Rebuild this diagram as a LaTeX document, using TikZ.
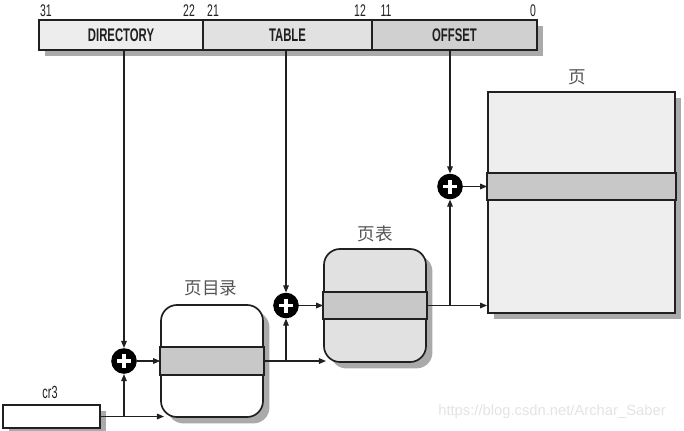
\documentclass[tikz,border=0pt]{standalone}
\usepackage{fontspec}
\setmainfont{Liberation Sans}
\newfontfamily\condfont[FakeStretch=0.62]{Liberation Sans}
\newfontfamily\cjk{Noto Sans CJK SC}
\usetikzlibrary{arrows.meta, shadows}
\definecolor{inkgray}{HTML}{202020}
\definecolor{dirfill}{HTML}{EDEDED}
\definecolor{tblfill}{HTML}{E1E1E1}
\definecolor{offfill}{HTML}{D0D0D0}
\definecolor{bandgray}{HTML}{C8C8C8}
\definecolor{pagefill}{HTML}{EEEEEE}
\definecolor{shadowgray}{HTML}{8E8E8E}
\definecolor{labelgray}{HTML}{555555}
\definecolor{wmark}{HTML}{E4E4E4}

\tikzset{
  boxshadow/.style={drop shadow={shadow xshift=1.6mm, shadow yshift=-1.6mm,
      fill=shadowgray, opacity=0.75}},
  field/.style={draw=inkgray, line width=1.2pt, minimum height=0.75cm,
      inner sep=0pt, boxshadow, font=\condfont\fontsize{13}{15}\selectfont\bfseries,
      text=inkgray},
  bitno/.style={font=\condfont\fontsize{12}{14}\selectfont, text=inkgray, inner sep=0pt},
  tablebox/.style={draw=inkgray, line width=1.2pt, rounded corners=0.4cm,
      minimum width=2.55cm, inner sep=0pt, boxshadow},
  band/.style={draw=inkgray, line width=1.2pt, fill=bandgray},
  adder/.style={circle, fill=black, minimum size=0.64cm, inner sep=0pt,
      path picture={
        \draw[white, line width=2.8pt]
          ([xshift=-1.75mm]path picture bounding box.center) --
          ([xshift=1.75mm]path picture bounding box.center);
        \draw[white, line width=2.8pt]
          ([yshift=-1.75mm]path picture bounding box.center) --
          ([yshift=1.75mm]path picture bounding box.center);}},
  link/.style={draw=inkgray, line width=0.8pt},
  cnlabel/.style={font=\cjk\fontsize{12.5}{14}\selectfont, text=labelgray, inner sep=0pt}
}

\begin{document}
\begin{tikzpicture}[x=0.025cm, y=-0.025cm, >={Triangle[length=5pt, width=4pt]}]

% Canvas
\fill[white] (0,0) rectangle (684,430);
\useasboundingbox (0,0) rectangle (684,430);

% ============================================================
% Linear address fields
% ============================================================
\node[field, fill=dirfill, minimum width=4.1cm]   (dir) at (121,35)   {DIRECTORY};
\node[field, fill=tblfill, minimum width=4.225cm] (tbl) at (287.5,35) {TABLE};
\node[field, fill=offfill, minimum width=4.125cm] (off) at (454.5,35) {OFFSET};

% Bit numbers above the fields
\node[bitno] (b31) at (46,11)  {31};
\node[bitno] (b22) at (189,11) {22};
\node[bitno] (b21) at (213,11) {21};
\node[bitno] (b12) at (360,11) {12};
\node[bitno] (b11) at (386,11) {11};
\node[bitno] (b0)  at (533,11) {0};

% ============================================================
% cr3 register
% ============================================================
\node[draw=inkgray, line width=1.2pt, fill=white, minimum width=2.425cm,
  minimum height=0.575cm, inner sep=0pt, boxshadow] (cr3) at (51.5,416.5) {};
\node[font=\condfont\fontsize{12.5}{14}\selectfont, text=inkgray, inner sep=0pt]
  (cr3label) at (50,392) {cr3};

% ============================================================
% Page directory
% ============================================================
\node[tablebox, fill=white, minimum height=2.8cm] (pagedir) at (212,361) {};
\draw[band] (pagedir.west |- 0,347) rectangle (pagedir.east |- 0,375);
\node[cnlabel] (dirlabel) at (211,288) {页目录};

% ============================================================
% Page table
% ============================================================
\node[tablebox, fill=tblfill, minimum height=2.825cm] (pagetbl) at (375,305.5) {};
\draw[band] (pagetbl.west |- 0,292) rectangle (pagetbl.east |- 0,319);
\node[cnlabel] (tbllabel) at (375,234) {页表};

% ============================================================
% Page frame
% ============================================================
\node[draw=inkgray, line width=1.2pt, fill=pagefill, minimum width=4.675cm,
  minimum height=5.525cm, inner sep=0pt, boxshadow] (page) at (581.5,202.5) {};
\draw[band] (page.west |- 0,173) rectangle (page.east |- 0,200);
\node[cnlabel] (pagelabel) at (577,77) {页};

% ============================================================
% Adders
% ============================================================
\node[adder] (pdir) at (124,361)   {};
\node[adder] (ptbl) at (286,305.5) {};
\node[adder] (poff) at (450,186.5) {};

% Foot points where the base lines meet the next box
\coordinate (dirfoot) at (164,416.5);
\coordinate (tblfoot) at (326,361);

% ============================================================
% Connectors
% ============================================================
% cr3 -> page directory
\draw[link, ->] (cr3.east) -- (dirfoot);
\draw[link, ->] (pdir |- cr3.east) -- (pdir.south);
\draw[link, ->] (dir.south -| pdir) -- (pdir.north);
\draw[link, ->] (pdir.east) -- (pagedir.west);

% page directory -> page table
\draw[link, ->] (pagedir.east) -- (tblfoot);
\draw[link, ->] (ptbl |- pagedir.east) -- (ptbl.south);
\draw[link, ->] (tbl.south -| ptbl) -- (ptbl.north);
\draw[link, ->] (ptbl.east) -- (pagetbl.west);

% page table -> page
\draw[link, ->] (pagetbl.east) -- (pagetbl.east -| page.west);
\draw[link, ->] (poff |- pagetbl.east) -- (poff.south);
\draw[link, ->] (off.south -| poff) -- (poff.north);
\draw[link, ->] (poff.east) -- (poff.east -| page.west);

% Watermark
\node[font=\fontsize{10.5}{12}\selectfont, text=wmark, inner sep=0pt]
  (wmtext) at (552,412) {https://blog.csdn.net/Archar\_Saber};

\end{tikzpicture}
\end{document}
